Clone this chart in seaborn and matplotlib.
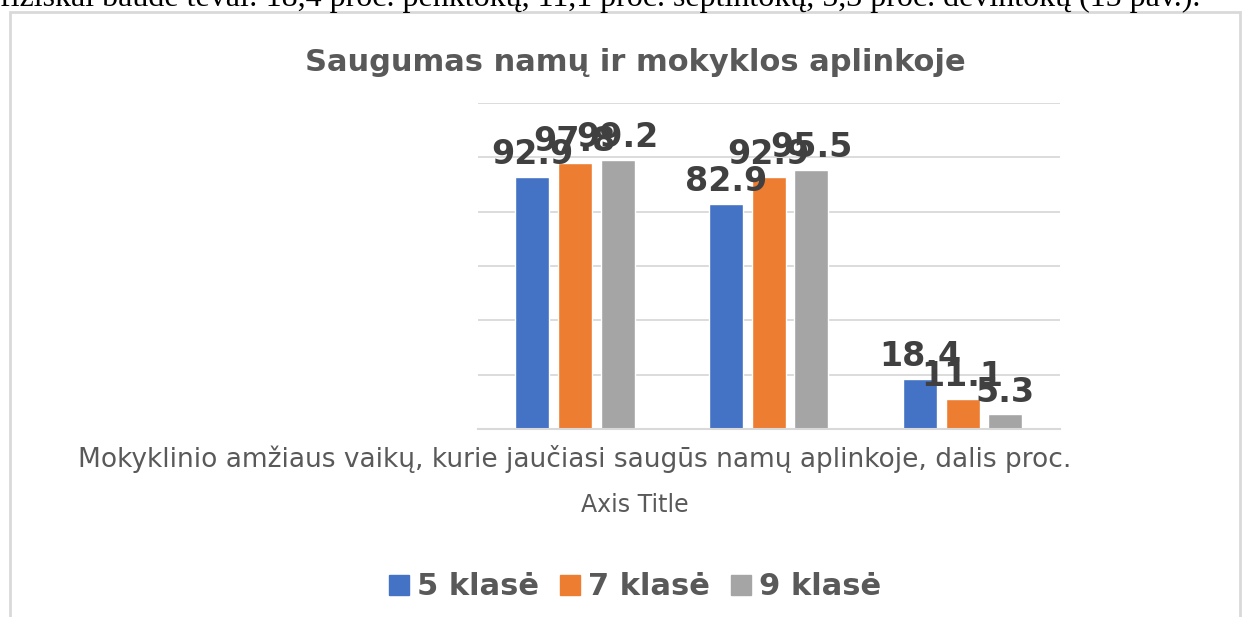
import pandas as pd
import seaborn as sns
import matplotlib.pyplot as plt
from matplotlib.patches import Rectangle
from matplotlib.lines import Line2D

# values
categories = [
    "Mokyklinio amžiaus vaikų, kurie jaučiasi saugūs namų aplinkoje, dalis proc.",
    "Mokyklinio amžiaus vaikų, kurie jaučiasi saugūs mokykloje, dalis proc.",
    "Mokyklinio amžiaus vaikų, kuriuos fiziškai baudė tėvai, dalis proc.",
]
tick_labels = [categories[0], "", ""]  # only the first label fits in the original
classes = ["5 klasė", "7 klasė", "9 klasė"]
klase_5 = [92.9, 82.9, 18.4]
klase_7 = [97.8, 92.9, 11.1]
klase_9 = [99.2, 95.5, 5.3]
colors = ["#4472C4", "#ED7D31", "#A5A5A5"]

df = pd.DataFrame({
    "category": categories * 3,
    "klase": [c for c in classes for _ in categories],
    "value": klase_5 + klase_7 + klase_9,
})

sns.set_style("white")
plt.rcParams["font.family"] = ["DejaVu Sans"]

fig = plt.figure(figsize=(12.48, 6.17), dpi=100)
ax = fig.add_axes([0.383, 0.305, 0.466, 0.528])

sns.barplot(data=df, x="category", y="value", hue="klase", order=categories,
            hue_order=classes, palette=colors, width=0.66, gap=0.2,
            saturation=1, legend=False, ax=ax)

for cont in ax.containers:
    ax.bar_label(cont, fmt="%.1f", padding=4, fontsize=24,
                 fontweight="bold", color="#404040")

ax.set_ylim(0, 120)
ax.set_xlim(-0.5, 2.5)
ax.set_yticks(range(0, 121, 20))
ax.yaxis.grid(True, color="#D9D9D9", lw=1.3)
ax.set_axisbelow(True)
ax.tick_params(left=False, bottom=False, labelleft=False)
for s in ["top", "right", "left"]:
    ax.spines[s].set_visible(False)
ax.spines["bottom"].set_color("#D9D9D9")
ax.spines["bottom"].set_linewidth(1.5)

ax.set_xticks(range(len(categories)))
ax.set_xticklabels(tick_labels, fontsize=19, color="#595959")
ax.tick_params(axis="x", pad=8)
ax.set_xlabel("")
ax.set_ylabel("")
fig.text(635 / 1248, 1 - 505 / 617, "Axis Title", ha="center", va="center",
         fontsize=17, color="#595959")

fig.text(0.509, 0.898, "Saugumas namų ir mokyklos aplinkoje", ha="center",
         va="center", fontsize=22, fontweight="bold", color="#595959")

handles = [Line2D([], [], marker="s", ls="", markersize=14, color=c) for c in colors]
leg = fig.legend(handles, classes, loc="center", bbox_to_anchor=(0.508, 0.049),
                 ncol=3, frameon=False, handlelength=0.8, handletextpad=0.2,
                 columnspacing=0.6, prop={"size": 22, "weight": "bold"})
for t in leg.get_texts():
    t.set_color("#595959")

# surrounding document text and chart frame
fig.text(0.0, 1 - 6 / 617,
         "fiziškai baudė tėvai: 18,4 proc. penktokų, 11,1 proc. septintokų, 5,3 proc. devintokų (15 pav.).",
         ha="left", va="baseline", fontsize=23, family="Liberation Serif", color="black")
fig.add_artist(Rectangle((10 / 1248, -0.05), 1230 / 1248, 1.05 - 12 / 617,
                         transform=fig.transFigure, fill=False, ec="#D9D9D9", lw=2))

fig.savefig("out.png", dpi=100)
